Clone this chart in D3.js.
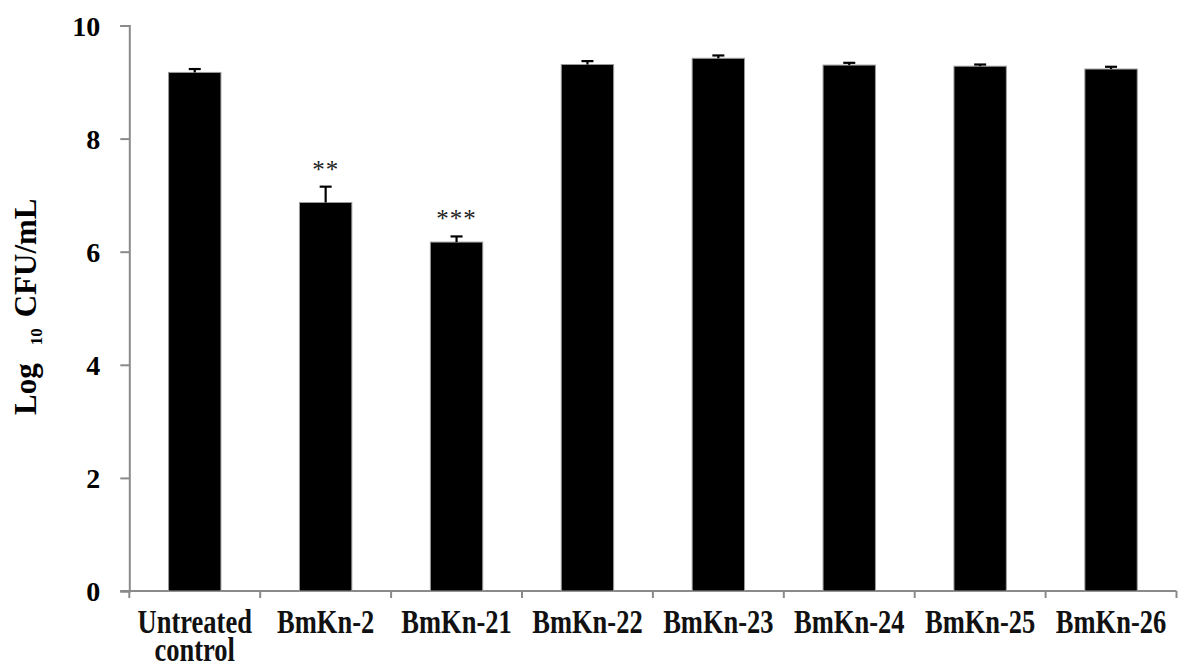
<!DOCTYPE html>
<html>
<head>
<meta charset="utf-8">
<script src="https://cdn.jsdelivr.net/npm/d3@7"></script>
<style>
  html, body { margin: 0; padding: 0; background: #fff; }
  svg { display: block; }
  text { font-family: "Liberation Serif", "Times New Roman", serif; }
</style>
</head>
<body>
<svg id="chart" width="1186" height="664"></svg>
<script>
// Bacterial counts after peptide treatment
const categories = ["Untreated control", "BmKn-2", "BmKn-21", "BmKn-22", "BmKn-23", "BmKn-24", "BmKn-25", "BmKn-26"];
const meanLog = [9.17, 6.87, 6.17, 9.31, 9.42, 9.30, 9.28, 9.23];
const errLog  = [0.06, 0.28, 0.10, 0.06, 0.05, 0.04, 0.03, 0.04];
const stars   = ["", "**", "***", "", "", "", "", ""];
const yTicks  = [0, 2, 4, 6, 8, 10];

const svg = d3.select("#chart");
const plotLeft = 129.3, plotRight = 1176.5, plotTop = 25.5, plotBottom = 591;
const axisColor = "#8a8a8a";

const x = d3.scaleBand().domain(categories).range([plotLeft, plotRight])
  .paddingInner(0.6).paddingOuter(0.3);
const xCat = d3.scaleBand().domain(categories).range([plotLeft, plotRight]).padding(0);
const y = d3.scaleLinear().domain([0, 10]).range([plotBottom, plotTop]);

// Y axis
const yAxis = svg.append("g")
  .attr("transform", `translate(${plotLeft},0)`)
  .call(d3.axisLeft(y).tickValues(yTicks).tickSize(9).tickPadding(20).tickFormat(d3.format("d")));
yAxis.select(".domain").attr("stroke", axisColor).attr("stroke-width", 2);
yAxis.selectAll(".tick line").attr("stroke", axisColor).attr("stroke-width", 2);
yAxis.selectAll(".tick text")
  .attr("fill", "#000").attr("font-size", 28).attr("font-weight", "bold")
  .attr("font-family", "Liberation Serif, serif").attr("dy", "0.34em");

// X axis baseline with ticks at category boundaries
const xAxis = svg.append("g").attr("transform", `translate(0,${plotBottom})`);
xAxis.append("line").attr("x1", plotLeft - 9).attr("x2", plotRight).attr("y1", 0).attr("y2", 0)
  .attr("stroke", axisColor).attr("stroke-width", 2);
const bounds = categories.map(c => xCat(c)).concat([plotRight]);
xAxis.selectAll("line.tick").data(bounds).join("line").attr("class", "tick")
  .attr("x1", d => d).attr("x2", d => d).attr("y1", 0).attr("y2", 7)
  .attr("stroke", axisColor).attr("stroke-width", 2);

// Category labels (tall, narrow bold serif)
const labels = svg.append("g");
categories.forEach(c => {
  const cx = xCat(c) + xCat.bandwidth() / 2;
  const words = c === "Untreated control" ? ["Untreated", "control"] : [c];
  words.forEach((w, i) => {
    labels.append("text")
      .attr("transform", `translate(${cx},${632.5 + i * 28.5}) scale(1,1.25)`)
      .attr("text-anchor", "middle")
      .attr("font-size", 26.5).attr("font-weight", "bold")
      .attr("fill", "#111")
      .text(w);
  });
});

// Bars
const data = categories.map((c, i) => ({ c, v: meanLog[i], e: errLog[i], s: stars[i] }));
svg.append("g").selectAll("rect").data(data).join("rect")
  .attr("x", d => x(d.c)).attr("width", x.bandwidth())
  .attr("y", d => y(d.v)).attr("height", d => y(0) - y(d.v))
  .attr("fill", "#000").attr("stroke", "#9a9a9a").attr("stroke-width", 1);

// Error bars (upper only)
const eb = svg.append("g").attr("stroke", "#000").attr("stroke-width", 2.2);
data.forEach(d => {
  const cx = x(d.c) + x.bandwidth() / 2;
  eb.append("line").attr("x1", cx).attr("x2", cx).attr("y1", y(d.v)).attr("y2", y(d.v + d.e));
  eb.append("line").attr("x1", cx - 6).attr("x2", cx + 6).attr("y1", y(d.v + d.e)).attr("y2", y(d.v + d.e));
});

// Significance markers
svg.append("g").selectAll("text").data(data.filter(d => d.s)).join("text")
  .attr("x", d => x(d.c) + x.bandwidth() / 2)
  .attr("y", d => y(d.v + d.e) - 9)
  .attr("text-anchor", "middle")
  .attr("font-size", 25).attr("fill", "#222")
  .attr("letter-spacing", 1)
  .text(d => d.s);

// Y axis title (subscript 10)
const yt = svg.append("text")
  .attr("transform", "translate(36,415) rotate(-90)")
  .attr("text-anchor", "start")
  .attr("font-size", 31).attr("font-weight", "bold").attr("fill", "#000");
yt.append("tspan").text("Log");
yt.append("tspan").attr("font-size", 17).attr("dx", 18).attr("dy", 6).text("10");
yt.append("tspan").attr("dx", 11).attr("dy", -6).text("CFU/mL");
</script>
</body>
</html>
